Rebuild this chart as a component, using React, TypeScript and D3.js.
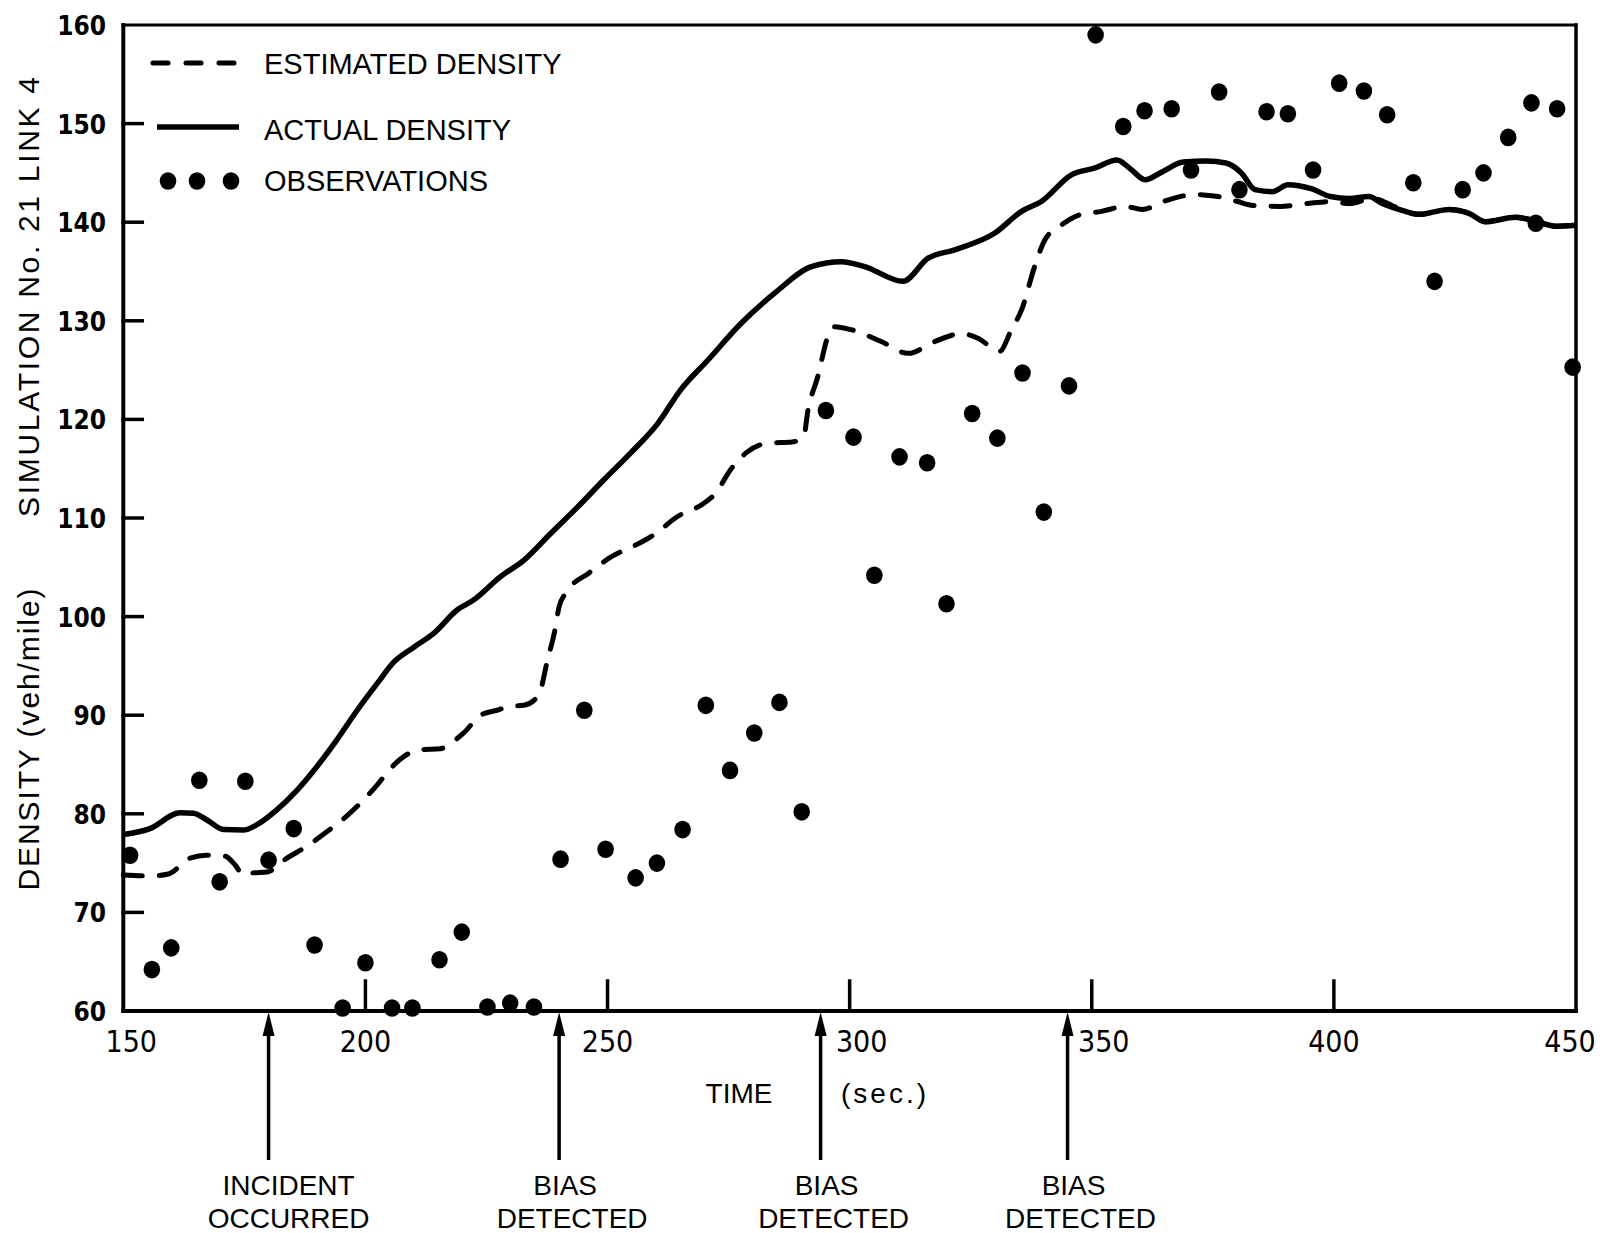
import React, { useEffect, useRef } from 'react';
import * as d3 from 'd3';

// SIMULATION No. 21, LINK 4 -- density (veh/mile) against time (sec)
const actualTime = [
  150, 155.5, 161.7, 164.5, 167.2, 170.7, 174.8, 177.6, 181.7, 185.9, 190, 194.1, 198.3, 202.4, 205.9, 210,
  214.1, 219, 222.4, 227.9, 232.7, 238.2, 243.8, 249.3, 254.8, 260.4, 265.1, 270.7, 277.6, 284.5, 292.1,
  298.3, 303.1, 311, 316.2, 321.7, 330, 335.5, 339.6, 345.8, 350.7, 355.2, 358, 361, 364.5, 368.9, 373.7,
  377.7, 380.9, 383.7, 387.3, 390.5, 395.3, 399.3, 403.2, 407.2, 410, 414.1, 417.6, 423.8, 427.9, 431.3,
  437.5, 441, 445.8, 450,
];
const actualDensity = [
  77.9, 78.5, 80.1, 80.05, 79.4, 78.4, 78.35, 78.9, 80.4, 82.4, 84.8, 87.5, 90.5, 93.2, 95.4, 96.9,
  98.3, 100.7, 101.7, 104.05, 105.7, 108.4, 111.1, 113.9, 116.6, 119.6, 123, 126, 129.75, 132.8, 135.5,
  136, 135.5, 134, 136.35, 137.2, 138.9, 141.1, 142.1, 144.8, 145.5, 146.3, 145.4, 144.3, 145.1, 146.1, 146.2,
  146, 145, 143.3, 143.1, 143.8, 143.4, 142.6, 142.4, 142.6, 141.9, 141.2, 140.8, 141.3, 140.9, 140.05,
  140.5, 140.2, 139.6, 139.7,
];

const estTime = [
  150, 155.5, 159.3, 163.8, 167.2, 171, 173.1, 174.8, 176.6, 179.7, 183.8, 187.9, 192.1, 195.5, 199, 202.4,
  205.2, 207.9, 211.4, 215.5, 217.6, 220.3, 223.8, 227.2, 230, 232.7, 234.8, 236.2, 237.6, 239, 240, 241.4,
  246.1, 250.9, 256.4, 259.6, 264.3, 269.9, 272.3, 275.4, 278.6, 283.3, 288.1, 290.5, 291.4, 293.4, 295.5,
  296.9, 300.3, 306.5, 312.1, 317.6, 323.1, 326.6, 331, 333.4, 335.5, 338.2, 340.3, 343.7, 347.2, 352,
  356.9, 360.4, 365.7, 371.3, 376.1, 380.1, 383.3, 388.9, 394.5, 399.3, 403.2, 408, 412, 414.1, 417.6,
  423.8, 427.9, 431.3, 437.5, 441, 445.8, 450,
];
const estDensity = [
  73.8, 73.7, 73.9, 75.5, 75.8, 75.7, 74.8, 73.8, 74, 74.1, 75.5, 76.7, 78.2, 79.5, 81.1, 82.9,
  84.6, 85.8, 86.5, 86.6, 87.15, 88.2, 90, 90.5, 90.9, 91, 91.5, 92.6, 95.6, 98.3, 101, 102.4,
  104.4, 106.1, 107.4, 108.3, 110.1, 111.5, 112.5, 114.9, 116.6, 117.6, 117.7, 118.25, 120.95, 124.3, 128.4,
  129.4, 129.1, 127.9, 126.7, 127.9, 128.7, 128.2, 126.9, 129.1, 131.1, 135.5, 138.2, 139.7, 140.7, 141.1,
  141.6, 141.3, 142.25, 142.8, 142.6, 142.1, 141.7, 141.6, 141.9, 142.1, 141.9, 142.4, 141.7, 141.2, 140.8,
  141.3, 140.9, 140.05, 140.5, 140.2, 139.6, 139.7,
];

const obsTime = [
  151.4, 155.9, 159.9, 165.7, 169.9, 175.2, 180, 185.2, 189.5, 195.3, 200, 205.5, 209.7, 215.3, 219.9, 225.2,
  229.9, 234.8, 240.3, 245.2, 249.6, 255.8, 260.2, 265.5, 270.3, 275.3, 280.3, 285.5, 290.1, 295.1, 300.8,
  305.1, 310.3, 316, 320, 325.3, 330.5, 335.7, 340.1, 345.3, 350.8, 356.5, 360.9, 366.5, 370.5, 376.3,
  380.5, 386.1, 390.5, 395.7, 401.1, 406.2, 411, 416.4, 420.8, 426.6, 430.9, 436, 440.8, 441.7, 446.1, 449.3,
];
const obsDensity = [
  75.8, 64.2, 66.4, 83.4, 73.1, 83.3, 75.3, 78.5, 66.7, 60.3, 64.9, 60.3, 60.3, 65.2, 68, 60.4,
  60.8, 60.4, 75.4, 90.5, 76.4, 73.5, 75, 78.4, 91, 84.4, 88.2, 91.3, 80.2, 120.9, 118.2,
  104.2, 116.2, 115.6, 101.3, 120.6, 118.1, 124.7, 110.6, 123.4, 159, 149.7, 151.3, 151.5, 145.3, 153.2,
  143.3, 151.2, 151, 145.3, 154.1, 153.3, 150.9, 144, 134, 143.3, 145, 148.6, 152.1, 139.9, 151.5, 125.3,
];

const xTicks = [150, 200, 250, 300, 350, 400, 450];
const yTicks = [60, 70, 80, 90, 100, 110, 120, 130, 140, 150, 160];

// incident / bias detection times and their captions
const eventTimes = [180, 240, 294, 345];
const eventLabels = [
  ['INCIDENT', 'OCCURRED'],
  ['BIAS', 'DETECTED'],
  ['BIAS', 'DETECTED'],
  ['BIAS', 'DETECTED'],
];

const legendLabels = ['ESTIMATED DENSITY', 'ACTUAL DENSITY', 'OBSERVATIONS'];
const yTitle = ['DENSITY (veh/mile)', 'SIMULATION No. 21 LINK 4'];
const xTitle = ['TIME', '(sec.)'];

const W = 1605;
const H = 1233;
const SANS = '"Liberation Sans", Arial, sans-serif';
const NARROW = '"Liberation Sans Narrow", "DejaVu Sans Condensed", "Liberation Sans", sans-serif';

const drawChart = (node: SVGSVGElement) => {
  const svg = d3.select(node);
  svg.selectAll('*').remove();

  const x = d3.scaleLinear().domain([150, 450]).range([123.3, 1576]);
  const y = d3.scaleLinear().domain([60, 160]).range([1011, 25]);
  const [x0, x1] = x.range();
  const [yb, yt] = y.range();

  svg.append('rect').attr('width', W).attr('height', H).attr('fill', '#fff');

  // frame
  const frame = svg.append('g').attr('stroke', '#000').attr('stroke-linecap', 'square');
  frame.append('line').attr('x1', x0).attr('x2', x0).attr('y1', yt).attr('y2', yb).attr('stroke-width', 4);
  frame.append('line').attr('x1', x0).attr('x2', x1).attr('y1', yb).attr('y2', yb).attr('stroke-width', 4);
  frame.append('line').attr('x1', x1).attr('x2', x1).attr('y1', yt).attr('y2', yb).attr('stroke-width', 3.5);
  frame.append('line').attr('x1', x0).attr('x2', x1).attr('y1', yt).attr('y2', yt).attr('stroke-width', 3);

  // inward ticks
  frame
    .selectAll('line.yt')
    .data(yTicks.slice(1, -1))
    .enter()
    .append('line')
    .attr('x1', x0)
    .attr('x2', x0 + 19)
    .attr('y1', d => y(d))
    .attr('y2', d => y(d))
    .attr('stroke-width', 3.5);
  frame
    .selectAll('line.xt')
    .data(xTicks.slice(1, -1))
    .enter()
    .append('line')
    .attr('x1', d => x(d))
    .attr('x2', d => x(d))
    .attr('y1', yb)
    .attr('y2', yb - 30)
    .attr('stroke-width', 3.5);

  // tick labels
  svg
    .append('g')
    .attr('font-family', NARROW)
    .attr('font-weight', 'bold')
    .attr('font-size', 26)
    .attr('text-anchor', 'end')
    .selectAll('text')
    .data(yTicks)
    .enter()
    .append('text')
    .attr('x', 106)
    .attr('y', d => y(d) + 10)
    .text(d => String(d));

  const labelShift = (t: number) => {
    if (t === 150) return 8;
    if (t === 450) return -6;
    return eventTimes.some(e => t - e > 0 && t - e < 10) ? 12 : 0;
  };
  svg
    .append('g')
    .attr('font-family', NARROW)
    .attr('font-size', 30)
    .attr('text-anchor', 'middle')
    .selectAll('text')
    .data(xTicks)
    .enter()
    .append('text')
    .attr('x', d => x(d) + labelShift(d))
    .attr('y', 1052)
    .text(d => String(d));

  // axis titles
  svg
    .append('text')
    .attr('x', 739)
    .attr('y', 1103)
    .attr('text-anchor', 'middle')
    .attr('font-family', SANS)
    .attr('font-size', 28)
    .text(xTitle[0]);
  svg
    .append('text')
    .attr('x', 885)
    .attr('y', 1103)
    .attr('text-anchor', 'middle')
    .attr('font-family', SANS)
    .attr('font-size', 28)
    .attr('letter-spacing', 3)
    .text(xTitle[1]);

  const titleSpans = [
    { c: 739.5, len: 302 },
    { c: 297, len: 440 },
  ];
  yTitle.forEach((t, i) => {
    svg
      .append('text')
      .attr('transform', `translate(39,${titleSpans[i].c}) rotate(-90)`)
      .attr('text-anchor', 'middle')
      .attr('font-family', SANS)
      .attr('font-size', 30)
      .attr('textLength', titleSpans[i].len)
      .attr('lengthAdjust', 'spacing')
      .text(t);
  });

  // event arrows
  const ev = svg.append('g');
  eventTimes.forEach((t, i) => {
    const ax = x(t);
    ev.append('line')
      .attr('x1', ax)
      .attr('x2', ax)
      .attr('y1', yb + 18)
      .attr('y2', 1160)
      .attr('stroke', '#000')
      .attr('stroke-width', 3.5);
    ev.append('path')
      .attr('d', `M${ax},${yb + 1}L${ax - 6},${yb + 25}L${ax + 6},${yb + 25}Z`)
      .attr('fill', '#000');
    eventLabels[i].forEach((s, j) => {
      ev.append('text')
        .attr('x', ax + (i === 0 ? 20 : 6 + j * 7))
        .attr('y', 1195 + j * 33)
        .attr('text-anchor', 'middle')
        .attr('font-family', SANS)
        .attr('font-size', 28)
        .text(s);
    });
  });

  // curves
  const lineOf = (times: number[]) =>
    d3
      .line<number>()
      .x((_, i) => x(times[i]))
      .y(d => y(d))
      .curve(d3.curveMonotoneX);

  svg
    .append('path')
    .attr('d', lineOf(actualTime)(actualDensity))
    .attr('fill', 'none')
    .attr('stroke', '#000')
    .attr('stroke-width', 5.5)
    .attr('stroke-linejoin', 'round');

  svg
    .append('path')
    .attr('d', lineOf(estTime)(estDensity))
    .attr('fill', 'none')
    .attr('stroke', '#000')
    .attr('stroke-width', 5)
    .attr('stroke-linecap', 'round')
    .attr('stroke-dasharray', '19 17');

  // observations
  svg
    .append('g')
    .selectAll('ellipse')
    .data(obsDensity)
    .enter()
    .append('ellipse')
    .attr('cx', (_, i) => x(obsTime[i]))
    .attr('cy', d => y(d))
    .attr('rx', 8.3)
    .attr('ry', 8.8)
    .attr('fill', '#000');

  // legend
  const lg = svg.append('g');
  lg.append('line')
    .attr('x1', 153)
    .attr('x2', 236)
    .attr('y1', 63)
    .attr('y2', 63)
    .attr('stroke', '#000')
    .attr('stroke-width', 5)
    .attr('stroke-linecap', 'round')
    .attr('stroke-dasharray', '15 18');
  lg.append('line')
    .attr('x1', 157)
    .attr('x2', 239)
    .attr('y1', 127)
    .attr('y2', 127)
    .attr('stroke', '#000')
    .attr('stroke-width', 5.5);
  [168, 197, 231].forEach(cx =>
    lg.append('ellipse').attr('cx', cx).attr('cy', 181).attr('rx', 8.3).attr('ry', 8.8).attr('fill', '#000')
  );
  legendLabels.forEach((s, i) => {
    lg.append('text')
      .attr('x', 264)
      .attr('y', [74, 140, 191][i])
      .attr('font-family', SANS)
      .attr('font-size', 29)
      .text(s);
  });
};

export default function App() {
  const ref = useRef<SVGSVGElement>(null);
  useEffect(() => {
    if (ref.current) drawChart(ref.current);
  }, []);
  return (
    <svg
      ref={ref}
      width={W}
      height={H}
      viewBox={`0 0 ${W} ${H}`}
      style={{ position: 'absolute', left: 0, top: 0, display: 'block' }}
    />
  );
}
